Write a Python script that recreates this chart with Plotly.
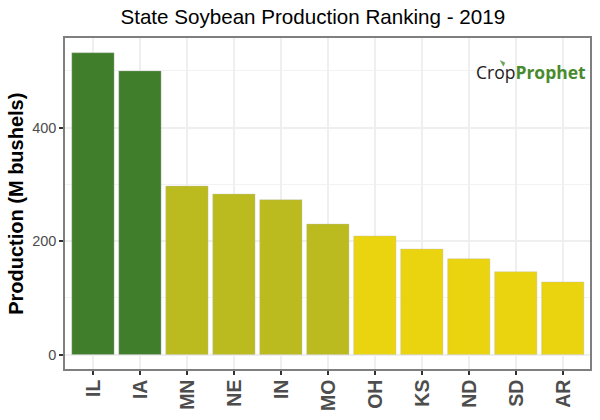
import plotly.graph_objects as go

states = ["IL", "IA", "MN", "NE", "IN", "MO", "OH", "KS", "ND", "SD", "AR"]
production = [532, 500, 297, 283, 273, 230, 209, 186, 169, 146, 128]
colors = ["#417E2C", "#417E2C", "#BBBB1F", "#BBBB1F", "#BBBB1F", "#BBBB1F",
          "#EAD30F", "#EAD30F", "#EAD30F", "#EAD30F", "#EAD30F"]
y_ticks = [0, 200, 400]

fig = go.Figure(go.Bar(
    x=states, y=production, width=0.9,
    marker=dict(color=colors, line=dict(color="rgba(190,190,190,0.6)", width=0.6)),
))
fig.update_layout(
    width=600, height=420, autosize=False,
    margin=dict(l=65, r=10, t=38, b=50.5),
    paper_bgcolor="white", plot_bgcolor="white",
    font=dict(family="Liberation Sans"),
    showlegend=False,
    title=dict(text="State Soybean Production Ranking - 2019",
               x=0.472, xanchor="center", xref="paper", y=0.9595, yanchor="middle",
               font=dict(size=20.6, color="black")),
    bargap=0.1,
)
fig.update_xaxes(
    range=[-0.595, 10.58], tickangle=-90, type="category", automargin=False,
    tickfont=dict(size=19.5, color="#4D4D4D", family="Liberation Sans", weight="bold"),
    showgrid=True, gridcolor="#EFEFEF", gridwidth=2,
    ticks="outside", ticklen=4, tickwidth=1.5, tickcolor="#333333",
    ticklabelstandoff=-3, ticklabelshift=1,
    showline=True, linecolor="#7F7F7F", linewidth=1.5, mirror=True, zeroline=False,
)
fig.update_yaxes(
    range=[-25.5, 558], tickvals=y_ticks, automargin=False,
    tickfont=dict(size=14.5, color="#4D4D4D"),
    showgrid=True, gridcolor="#EFEFEF", gridwidth=2,
    minor=dict(tickvals=[100, 300, 500], showgrid=True, gridcolor="#F2F2F2", gridwidth=1, ticks=""),
    ticks="outside", ticklen=4, tickwidth=1.5, tickcolor="#333333",
    showline=True, linecolor="#7F7F7F", linewidth=1.5, mirror=True, zeroline=False,
)
fig.add_annotation(
    xref="paper", yref="paper", x=-0.0933, y=0.499, xanchor="center", yanchor="middle",
    showarrow=False, textangle=-90,
    text="<b>Production (M bushels)</b>", font=dict(size=20, color="black"),
)
fig.add_annotation(
    xref="paper", yref="paper", x=0.99, y=0.897, xanchor="right", yanchor="middle",
    showarrow=False, xshift=3,
    text="<span style='color:#222222'>Crop</span><span style='color:#4A8A2E'><b>Prophet</b></span>",
    font=dict(size=17.5, family="Open Sans"),
)
fig.add_shape(type="path", xref="paper", yref="paper",
              path="M 0.829 0.932 L 0.838 0.925 L 0.835 0.915 Z",
              fillcolor="#6FA05A", line=dict(color="#6FA05A", width=0.5))
fig.write_html("out.html", config={"displayModeBar": False},
               post_script="document.body.style.margin='0';")
